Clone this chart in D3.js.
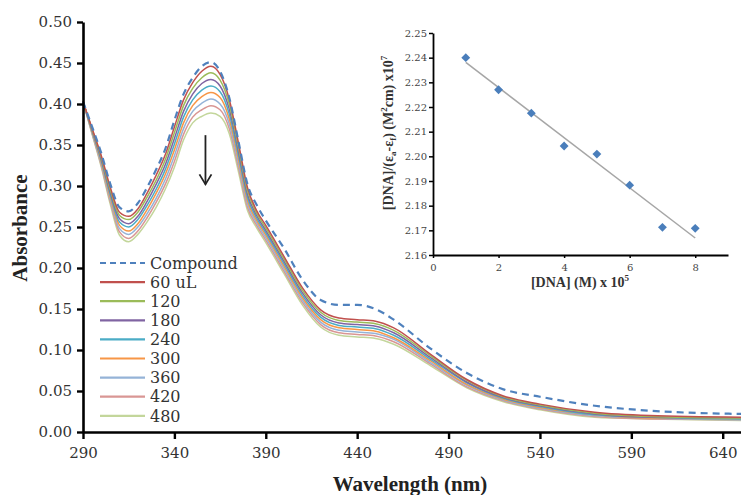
<!DOCTYPE html>
<html>
<head>
<meta charset="utf-8">
<script src="https://cdn.jsdelivr.net/npm/d3@7"></script>
<style>
  body { margin: 0; background: #fff; }
  svg { display: block; }
  svg text { font-family: "DejaVu Serif", "Liberation Serif", serif; }
  svg text.bold { font-family: "Liberation Serif", "DejaVu Serif", serif; font-weight: bold; }
</style>
</head>
<body>
<svg id="chart" width="741" height="495"></svg>
<script>
// wavelengths (nm) shared by every spectrum
const wavelengths = [290, 295, 300, 305, 310, 315, 320, 325, 330, 335, 340, 345, 350, 355, 360, 365, 370, 375, 380, 385, 390, 400, 410, 420, 430, 440, 450, 460, 480, 500, 520, 540, 570, 600, 650];

const seriesNames = ["Compound", "60 uL", "120", "180", "240", "300", "360", "420", "480"];
const seriesColors = ["#4f81bd", "#c0504d", "#9bbb59", "#8064a2", "#4bacc6", "#f79646", "#95b3d7", "#d99694", "#c3d69b"];

const compound = [.403, .372, .340, .302, .274, .269, .279, .298, .320, .345, .380, .412, .432, .446, .451, .440, .408, .355, .302, .277, .258, .224, .186, .161, .155, .155, .150, .137, .102, .072, .052, .043, .032, .026, .022];
const dna60  = [.403, .370, .337, .298, .268, .263, .272, .291, .313, .338, .372, .405, .426, .440, .446, .436, .406, .353, .298, .270, .252, .214, .176, .149, .139, .137, .135, .127, .095, .064, .044, .034, .024, .020, .018];
const dna120 = [.403, .369, .335, .295, .264, .259, .268, .286, .307, .332, .365, .398, .419, .432, .438, .429, .400, .348, .294, .267, .249, .211, .173, .146, .136, .134, .132, .124, .093, .063, .043, .033, .023, .019, .017];
const dna180 = [.403, .368, .333, .292, .260, .254, .263, .281, .302, .326, .358, .391, .412, .425, .430, .422, .394, .343, .290, .264, .246, .208, .170, .143, .133, .131, .129, .121, .091, .061, .042, .032, .022, .018, .017];
const dna240 = [.403, .367, .331, .289, .256, .250, .259, .276, .296, .320, .351, .384, .405, .417, .422, .415, .388, .338, .286, .261, .243, .205, .167, .140, .130, .128, .126, .118, .089, .060, .041, .031, .021, .018, .016];
const dna300 = [.403, .366, .329, .286, .252, .245, .254, .271, .291, .314, .344, .377, .398, .409, .414, .408, .382, .333, .282, .258, .240, .202, .164, .137, .127, .125, .123, .115, .087, .058, .040, .030, .021, .017, .016];
const dna360 = [.403, .365, .327, .283, .248, .241, .250, .266, .285, .308, .337, .370, .391, .401, .406, .400, .376, .328, .278, .255, .237, .199, .161, .134, .124, .122, .120, .113, .085, .057, .039, .029, .020, .017, .015];
const dna420 = [.403, .364, .325, .280, .244, .236, .245, .261, .280, .302, .330, .363, .384, .393, .398, .393, .370, .323, .274, .252, .234, .196, .158, .131, .121, .119, .117, .110, .083, .055, .038, .028, .019, .016, .015];
const dna480 = [.403, .363, .323, .277, .240, .232, .241, .256, .274, .296, .323, .356, .377, .385, .389, .385, .364, .318, .270, .249, .231, .193, .155, .128, .118, .116, .114, .107, .081, .054, .037, .027, .018, .016, .014];

const spectra = [compound, dna60, dna120, dna180, dna240, dna300, dna360, dna420, dna480];

const xTicks = [290, 340, 390, 440, 490, 540, 590, 640];
const yTicks = [0, 0.05, 0.10, 0.15, 0.20, 0.25, 0.30, 0.35, 0.40, 0.45, 0.50];

// inset: binding plot
const insetX = [1, 2, 3, 4, 5, 6, 7, 8];
const insetY = [2.240, 2.227, 2.2175, 2.2042, 2.2009, 2.1883, 2.1712, 2.1708];
const insetXTicks = [0, 2, 4, 6, 8];
const insetYTicks = [2.16, 2.17, 2.18, 2.19, 2.20, 2.21, 2.22, 2.23, 2.24, 2.25];

const svg = d3.select("#chart");

// ---- main chart ----
const x = d3.scaleLinear().domain([290, 650]).range([83, 741]);
const y = d3.scaleLinear().domain([0, 0.5]).range([432, 22]);

const line = d3.line()
    .x((d, i) => x(wavelengths[i]))
    .y(d => y(d))
    .curve(d3.curveMonotoneX);

const plots = svg.append("g");
// draw titration series first, compound (dashed) on top
spectra.map((s, i) => ({s, i})).reverse().forEach(({s, i}) => {
    plots.append("path")
        .attr("d", line(s))
        .attr("fill", "none")
        .attr("stroke", seriesColors[i])
        .attr("stroke-width", i == 0 ? 2.2 : 1.5)
        .attr("stroke-dasharray", i == 0 ? "7,5" : null);
});

const xAxis = svg.append("g")
    .attr("transform", "translate(0,432)")
    .call(d3.axisBottom(x).tickValues(xTicks).tickSize(7).tickSizeOuter(0).tickFormat(d3.format("d")));
const yAxis = svg.append("g")
    .attr("transform", "translate(83,0)")
    .call(d3.axisLeft(y).tickValues(yTicks).tickSize(6).tickSizeOuter(0).tickFormat(d3.format(".2f")));

[xAxis, yAxis].forEach(a => {
    a.attr("font-family", null);
    a.select(".domain").attr("stroke", "#000").attr("stroke-width", 2.6);
    a.selectAll(".tick line").attr("stroke", "#000").attr("stroke-width", 2.4);
    a.selectAll("text")
        .attr("font-size", 15)
        .attr("fill", "#333");
});
xAxis.selectAll("text").attr("dy", "1.05em").attr("y", 10);
yAxis.selectAll("text").attr("x", -11);

svg.append("text")
    .attr("class", "bold")
    .text("Wavelength (nm)")
    .attr("x", 410)
    .attr("y", 491)
    .attr("text-anchor", "middle")
    .attr("font-size", 21)
    .attr("fill", "#222");

svg.append("text")
    .attr("class", "bold")
    .text("Absorbance")
    .attr("transform", "translate(27,228) rotate(-90)")
    .attr("text-anchor", "middle")
    .attr("font-size", 21)
    .attr("fill", "#222");

// arrow showing hypochromism
const arrow = svg.append("g").attr("stroke", "#222").attr("stroke-width", 1.8).attr("fill", "none");
arrow.append("line")
    .attr("x1", x(357)).attr("x2", x(357))
    .attr("y1", y(0.362)).attr("y2", y(0.302));
arrow.append("polyline")
    .attr("points", `${x(357) - 6},${y(0.302) - 10} ${x(357)},${y(0.302)} ${x(357) + 6},${y(0.302) - 10}`);

// legend
const legend = svg.append("g").attr("transform", "translate(100,263)");
seriesNames.forEach((name, i) => {
    const row = legend.append("g").attr("transform", `translate(0,${i * 19.1})`);
    row.append("line")
        .attr("x1", 0).attr("x2", 45)
        .attr("stroke", seriesColors[i])
        .attr("stroke-width", i == 0 ? 2 : 2.2)
        .attr("stroke-dasharray", i == 0 ? "6,4" : null);
    row.append("text")
        .text(name)
        .attr("x", 50)
        .attr("dy", "0.36em")
        .attr("font-size", 16)
        .attr("fill", "#333");
});

// ---- inset chart ----
const ix = d3.scaleLinear().domain([0, 9]).range([433, 728]);
const iy = d3.scaleLinear().domain([2.16, 2.25]).range([255, 33]);

const inset = svg.append("g");
const ixAxis = inset.append("g")
    .attr("transform", "translate(0,255)")
    .call(d3.axisBottom(ix).tickValues(insetXTicks).tickSize(3).tickSizeOuter(0));
const iyAxis = inset.append("g")
    .attr("transform", "translate(433,0)")
    .call(d3.axisLeft(iy).tickValues(insetYTicks).tickSize(4).tickSizeOuter(0).tickFormat(d3.format(".2f")));

[ixAxis, iyAxis].forEach(a => {
    a.attr("font-family", null);
    a.select(".domain").attr("stroke", "#000").attr("stroke-width", 1.8);
    a.selectAll(".tick line").attr("stroke", "#000").attr("stroke-width", 1.5);
    a.selectAll("text")
        .attr("font-size", 10)
        .attr("fill", "#444");
});
ixAxis.selectAll("text").attr("y", 9);
iyAxis.selectAll("text").attr("x", -6);

// linear fit through the inset points
const mx = d3.mean(insetX), my = d3.mean(insetY);
const slope = d3.sum(insetX, (v, i) => (v - mx) * (insetY[i] - my)) / d3.sum(insetX, v => (v - mx) ** 2);
const icept = my - slope * mx;
inset.append("line")
    .attr("x1", ix(1)).attr("y1", iy(icept + slope * 1))
    .attr("x2", ix(8)).attr("y2", iy(icept + slope * 8))
    .attr("stroke", "#a6a6a6")
    .attr("stroke-width", 1.5);

inset.selectAll("path.pt")
    .data(insetX)
    .join("path")
    .attr("class", "pt")
    .attr("d", d3.symbol(d3.symbolDiamond2, 50))
    .attr("transform", (d, i) => `translate(${ix(d)},${iy(insetY[i])})`)
    .attr("fill", "#4a7ebb");

const ixLabel = inset.append("text")
    .attr("class", "bold")
    .attr("x", 580)
    .attr("y", 287)
    .attr("text-anchor", "middle")
    .attr("font-size", 14)
    .attr("fill", "#333");
ixLabel.append("tspan").text("[DNA] (M) x 10");
ixLabel.append("tspan").text("5").attr("font-size", 9).attr("dy", -6);

const iyLabel = inset.append("text")
    .attr("class", "bold")
    .attr("transform", "translate(393,133) rotate(-90)")
    .attr("text-anchor", "middle")
    .attr("font-size", 14)
    .attr("fill", "#333");
iyLabel.append("tspan").text("[DNA]/(ε");
iyLabel.append("tspan").text("a").attr("font-size", 9).attr("dy", 3);
iyLabel.append("tspan").text("-ε").attr("dy", -3);
iyLabel.append("tspan").text("f").attr("font-size", 9).attr("dy", 3);
iyLabel.append("tspan").text(") (M").attr("dy", -3);
iyLabel.append("tspan").text("2").attr("font-size", 9).attr("dy", -6);
iyLabel.append("tspan").text("cm) x10").attr("dy", 6);
iyLabel.append("tspan").text("7").attr("font-size", 9).attr("dy", -6);
</script>
</body>
</html>
